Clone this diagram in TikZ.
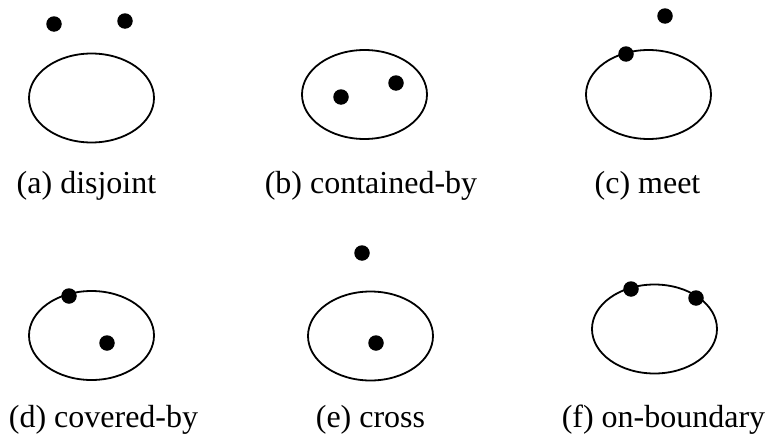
\documentclass[tikz,border=0pt]{standalone}
\usepackage{fontspec}
\setmainfont{Liberation Serif}
\usetikzlibrary{shapes.geometric}
\tikzset{
  region/.style={draw=black, line width=1.8pt, ellipse, inner sep=0pt, minimum width=125pt, minimum height=89pt},
  pointdot/.style={circle, fill=black, inner sep=0pt, minimum size=15.5pt},
  caption/.style={anchor=base, inner sep=0pt, font=\fontsize{32}{38}\selectfont}
}
\begin{document}
\begin{tikzpicture}[x=1pt,y=-1pt]
\useasboundingbox (0,0) rectangle (769,439);
% (a)
\node[region] (ea) at (91.5,98) {};
\node[pointdot] (a1) at (54,24) {};
\node[pointdot] (a2) at (125,21) {};
\node[caption] (la) at (86.5,193) {(a) disjoint};
% (b)
\node[region] (eb) at (364.5,94.5) {};
\node[pointdot] (b1) at (341,97) {};
\node[pointdot] (b2) at (396,83) {};
\node[caption] (lb) at (371,193) {(b) contained-by};
% (c)
\node[region] (ec) at (648.5,94.5) {};
\node[pointdot] (c1) at (665,16) {};
\node[pointdot] (c2) at (626,54) {};
\node[caption] (lc) at (647.5,193) {(c) meet};
% (d)
\node[region] (ed) at (91.5,335.5) {};
\node[pointdot] (d1) at (69,296) {};
\node[pointdot] (d2) at (107,343) {};
\node[caption] (ld) at (103.5,427) {(d) covered-by};
% (e)
\node[region] (ee) at (370.5,336) {};
\node[pointdot] (e1) at (362,253) {};
\node[pointdot] (e2) at (376,343) {};
\node[caption] (le) at (370.5,427) {(e) cross};
% (f)
\node[region] (ef) at (654.5,329) {};
\node[pointdot] (f1) at (631,289) {};
\node[pointdot] (f2) at (696,298) {};
\node[caption] (lf) at (663.5,427) {(f) on-boundary};
\end{tikzpicture}
\end{document}
